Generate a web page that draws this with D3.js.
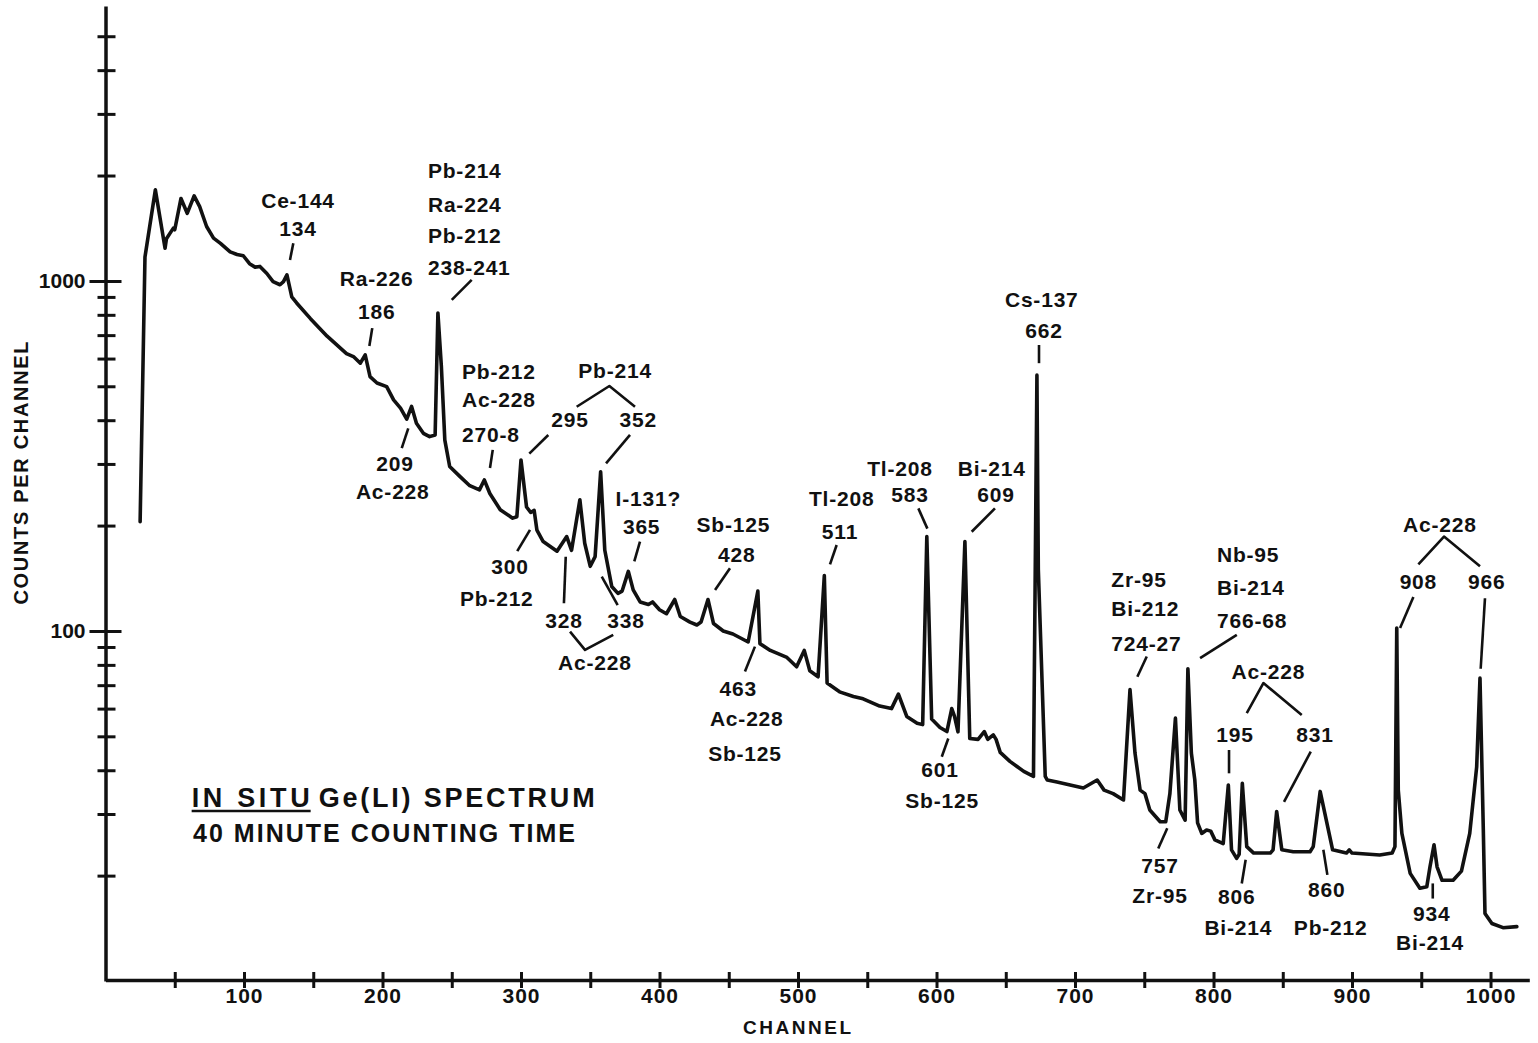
<!DOCTYPE html>
<html>
<head>
<meta charset="utf-8">
<script src="https://cdn.jsdelivr.net/npm/d3@7"></script>
<style>
  body { margin: 0; background: #fff; }
  text { font-family: "Liberation Sans", Arial, sans-serif; font-weight: bold; fill: #111; }
</style>
</head>
<body>
<div id="chart"></div>
<script>
// Spectrum trace: channel number and counts per channel
var channel = [25, 28.5, 36, 43, 44, 49, 50, 54.5, 59, 64, 68, 73, 78, 83, 90, 95, 99.5, 104, 108, 111.5,
  116.5, 121, 126, 128.5, 131, 134.5, 138, 148, 160, 174, 179, 184, 187.5, 191, 196, 203, 208, 213, 217.5, 221,
  224.5, 229.5, 234, 238, 240, 242.5, 245, 248.5, 256, 263, 270, 273.5, 277.5, 285, 294, 297, 300, 304, 307, 309.5,
  311.5, 316, 326, 333, 336.5, 342.5, 346, 350, 353.5, 357.5, 360.5, 365.5, 370, 373, 377.5, 381, 386, 392, 395, 400,
  405, 411, 415, 422, 427, 430, 435, 439, 446, 453, 464, 471, 472.5, 480, 492, 499, 504.5, 508.5, 514.5, 519,
  521, 530, 540, 547, 559, 567.5, 572.5, 578.5, 586, 590, 593, 596.5, 602.5, 607.5, 611, 613, 615.5, 620.5, 624, 630,
  634.5, 637, 641, 643, 646, 653, 663, 670, 672.5, 673.5, 678.5, 680, 687, 696.5, 706, 716, 721, 727.5, 735, 739.7,
  743.3, 747, 750.5, 754, 761.5, 765.5, 768.5, 772.5, 775.7, 779.5, 781.5, 784, 786.5, 788.5, 791.5, 795, 798, 801, 807, 810.7,
  813, 816.7, 818.5, 820.8, 824, 829, 841, 843, 845.6, 849.3, 857.6, 869.7, 872, 877, 886, 896, 898, 900, 920, 929,
  931, 932.3, 933.4, 936, 942, 949, 954, 956.3, 959.2, 961.4, 965, 973, 979, 985, 990, 992.4, 994.8, 996, 1001, 1009, 1019];
var counts = [205, 1170, 1820, 1240, 1320, 1415, 1400, 1720, 1560, 1750, 1630, 1430, 1325, 1280, 1210, 1190, 1180, 1120, 1095, 1100,
  1050, 995, 975, 995, 1040, 900, 865, 780, 695, 620, 608, 582, 615, 533, 511, 499, 457, 433, 403, 438,
  392, 367, 359, 363, 810, 570, 351, 295, 276, 260, 253, 270, 247, 222, 210, 212, 308, 226, 218, 221,
  194, 180, 169, 186, 170, 237, 178, 153, 163, 285, 170, 134, 128, 130, 148, 131, 121, 119, 121, 115,
  112, 123, 110, 106, 104, 106, 123, 105, 100, 98, 93, 130, 92, 88, 84, 79, 88, 77, 74, 144,
  71, 67, 65, 64, 61, 60, 66, 57, 54.5, 54, 186, 56, 53, 51.6, 60, 57, 51.5, 180, 49.3, 49,
  51.6, 49, 50.5, 49, 45, 42.4, 39.7, 38.4, 538, 150, 38.4, 37.5, 37, 36.3, 35.6, 37.5, 35.1, 34.3, 32.9, 68,
  44.8, 35.1, 34.3, 30.8, 28.5, 28.5, 34.3, 56.4, 30.8, 28.8, 78, 44.8, 37.5, 28.3, 26.4, 27, 26.8, 25.3, 24.7, 36.3,
  23.7, 22.4, 23, 36.7, 24.2, 23.2, 23.2, 23.7, 30.5, 23.7, 23.4, 23.4, 24.2, 34.8, 23.7, 23.2, 23.7, 23.2, 22.9, 23.2,
  24.2, 102, 35.1, 26.4, 20.3, 18.4, 18.6, 21.2, 24.5, 21.2, 19.4, 19.4, 20.6, 26.4, 40.9, 73.3, 27, 15.6, 14.6, 14.2, 14.3];

// Axis ticks
var xTicks = d3.range(50, 1001, 50);
var xLabels = [100, 200, 300, 400, 500, 600, 700, 800, 900, 1000];
var yMajor = [100, 1000];
var yMinor = [20, 30, 40, 50, 60, 70, 80, 90, 200, 300, 400, 500, 600, 700, 800, 900, 2000, 3000, 4000, 5000];

// Peak labels: text, channel, counts (centre of the text)
var peakLabels = [
  ["Ce-144", 139, 1700], ["134", 139, 1410],
  ["Ra-226", 195.8, 1018], ["186", 195.8, 817],
  ["209", 209, 301], ["Ac-228", 207.4, 250],
  ["Pb-214", 367.9, 555], ["295", 335.4, 401], ["352", 384.7, 401],
  ["300", 292.1, 153], ["Pb-212", 282.5, 124],
  ["328", 331, 107], ["338", 375.8, 107], ["Ac-228", 353.4, 81.5],
  ["I-131?", 391.9, 239], ["365", 387.1, 199],
  ["Sb-125", 453.3, 201], ["428", 455.7, 165],
  ["463", 456.9, 68.5], ["Ac-228", 463, 56.4], ["Sb-125", 461.7, 44.8],
  ["Tl-208", 531.5, 239], ["511", 530.3, 192],
  ["Tl-208", 573.6, 292], ["583", 580.9, 245],
  ["Bi-214", 639.9, 292], ["609", 643, 245],
  ["Cs-137", 676, 883], ["662", 677.6, 724],
  ["601", 602.5, 40.1], ["Sb-125", 604, 32.7],
  ["Ac-228", 839.6, 76.6], ["195", 815.5, 50.5], ["831", 873.3, 50.5],
  ["757", 761.4, 21.4], ["Zr-95", 761.4, 17.6],
  ["806", 816.8, 17.4], ["Bi-214", 817.9, 14.2],
  ["860", 881.7, 18.2], ["Pb-212", 884.6, 14.2],
  ["Ac-228", 963.5, 201], ["908", 947.9, 138], ["966", 997.3, 138],
  ["934", 957.5, 15.6], ["Bi-214", 956.3, 12.9]
];

// Left aligned label stacks: lines, channel of left edge, counts of each line
var stackLabels = [
  [["Pb-214", "Ra-224", "Pb-212", "238-241"], 232.8, [2065, 1649, 1345, 1094]],
  [["Pb-212", "Ac-228", "270-8"], 257.4, [551, 457, 363]],
  [["Zr-95", "Bi-212", "724-27"], 726.2, [140, 116, 92.3]],
  [["Nb-95", "Bi-214", "766-68"], 802.5, [165, 133, 107]]
];

// Leader lines and brackets as [channel, counts] vertices
var leaders = [
  [[135.6, 1282], [133.2, 1148]],
  [[192.6, 733], [190.5, 652]],
  [[218.6, 379], [213.9, 333]],
  [[264.4, 1007], [250, 883]],
  [[279.6, 329], [277.6, 292]],
  [[340.2, 437], [363.8, 501], [382.3, 437]],
  [[319.7, 363], [306, 321]],
  [[378.7, 363], [361.4, 301]],
  [[306.5, 194.5], [297.3, 169]],
  [[332.3, 163], [331, 120]],
  [[358.3, 143], [369.8, 118.6]],
  [[335.4, 99.6], [346.2, 88.3], [366.6, 97.5]],
  [[385.9, 180], [381.8, 158]],
  [[450.9, 151], [440.1, 131]],
  [[468.9, 90.2], [461.7, 76.6]],
  [[527.9, 176], [523.1, 155]],
  [[586.9, 224], [593.4, 196]],
  [[642.2, 224], [625.4, 192]],
  [[674, 656], [674, 582]],
  [[608.5, 49.3], [603.8, 43.7]],
  [[751.8, 84.5], [745, 74]],
  [[816.8, 97.5], [790.3, 83.6]],
  [[824, 58.2], [836, 71], [863.7, 57.5]],
  [[811.2, 45.7], [811.2, 39.2]],
  [[870.2, 45.2], [850.9, 32.5]],
  [[766.6, 27.3], [760.1, 23.9]],
  [[823.2, 22.2], [820.4, 19.0]],
  [[879.3, 23.7], [882.2, 20.1]],
  [[947.9, 155], [966.4, 186], [992.4, 153]],
  [[944.3, 125], [934.7, 102]],
  [[996, 124], [992.9, 78]],
  [[958.3, 19], [958.3, 17.2]]
];

// Caption block
var captionUnderlined = "IN SITU";
var captionRest = "Ge(LI) SPECTRUM";
var captionLine2 = "40 MINUTE COUNTING TIME";
var captionAt = [[62.2, 33.3], [63.2, 26.4]];

// SVG area
var svgWidth = 1538;
var svgHeight = 1043;

var svg = d3.select("#chart")
  .append("svg")
  .attr("width", svgWidth)
  .attr("height", svgHeight);

var xScale = d3.scaleLinear()
  .domain([0, 1028])
  .range([105.5, 1529.3]);

var yScale = d3.scaleLog()
  .domain([10, 6100])
  .range([981, 6]);

var ink = "#111";

// Y axis with cross-shaped ticks
var yAxis = d3.axisLeft(yScale)
  .tickValues(yMajor.concat(yMinor))
  .tickSize(0)
  .tickPadding(20)
  .tickFormat(d => yMajor.indexOf(d) >= 0 ? d : "");

var yG = svg.append("g")
  .attr("transform", `translate(${xScale(0)},0)`)
  .call(yAxis);
yG.select(".domain").attr("stroke", ink).attr("stroke-width", 3.5);
yG.selectAll(".tick line")
  .attr("stroke", ink)
  .attr("stroke-width", 3)
  .attr("x1", d => yMajor.indexOf(d) >= 0 ? -16 : -8)
  .attr("x2", d => yMajor.indexOf(d) >= 0 ? 16 : 10);
yG.selectAll(".tick text")
  .style("font-size", "21px")
  .attr("fill", ink);

// X axis
var xAxis = d3.axisBottom(xScale)
  .tickValues(xTicks)
  .tickSize(0)
  .tickPadding(8)
  .tickFormat(d => xLabels.indexOf(d) >= 0 ? d : "");

var xG = svg.append("g")
  .attr("transform", `translate(0,${yScale(10) - 1})`)
  .call(xAxis);
xG.select(".domain").attr("stroke", ink).attr("stroke-width", 3.5);
xG.selectAll(".tick line")
  .attr("stroke", ink)
  .attr("stroke-width", 3)
  .attr("y1", -8)
  .attr("y2", 8);
xG.selectAll(".tick text")
  .style("font-size", "21px")
  .style("letter-spacing", "1px")
  .attr("fill", ink);

// Axis titles
svg.append("text")
  .attr("transform", `translate(21,473) rotate(-90)`)
  .attr("text-anchor", "middle")
  .attr("dominant-baseline", "central")
  .attr("textLength", 263)
  .style("font-size", "20px")
  .text("COUNTS PER CHANNEL");

svg.append("text")
  .attr("x", 797)
  .attr("y", 1027)
  .attr("text-anchor", "middle")
  .attr("dominant-baseline", "central")
  .attr("textLength", 108)
  .style("font-size", "19px")
  .text("CHANNEL");

// Spectrum trace
var trace = channel.map((c, i) => [c, counts[i]]);
var line = d3.line()
  .x(d => xScale(d[0]))
  .y(d => yScale(d[1]));

svg.append("path")
  .datum(trace)
  .attr("d", line)
  .attr("fill", "none")
  .attr("stroke", ink)
  .attr("stroke-width", 3.6)
  .attr("stroke-linejoin", "round")
  .attr("stroke-linecap", "round");

// Leader lines
svg.append("g")
  .selectAll("path")
  .data(leaders)
  .enter()
  .append("path")
  .attr("d", line)
  .attr("fill", "none")
  .attr("stroke", ink)
  .attr("stroke-width", 2.6)
  .attr("stroke-linejoin", "round");

// Peak labels
svg.append("g")
  .selectAll("text")
  .data(peakLabels)
  .enter()
  .append("text")
  .attr("x", d => xScale(d[1]))
  .attr("y", d => yScale(d[2]))
  .attr("text-anchor", "middle")
  .attr("dominant-baseline", "central")
  .style("font-size", "21px")
  .style("letter-spacing", "0.8px")
  .text(d => d[0]);

stackLabels.forEach(function (s) {
  s[0].forEach(function (t, i) {
    svg.append("text")
      .attr("x", xScale(s[1]))
      .attr("y", yScale(s[2][i]))
      .attr("text-anchor", "start")
      .attr("dominant-baseline", "central")
      .style("font-size", "21px")
      .style("letter-spacing", "0.8px")
      .text(t);
  });
});

// Caption
var capX = xScale(captionAt[0][0]);
var capY = yScale(captionAt[0][1]);
svg.append("text")
  .attr("x", capX)
  .attr("y", capY)
  .attr("dominant-baseline", "central")
  .attr("textLength", 118)
  .style("font-size", "27px")
  .text(captionUnderlined);
svg.append("line")
  .attr("x1", capX)
  .attr("x2", capX + 119)
  .attr("y1", capY + 13)
  .attr("y2", capY + 13)
  .attr("stroke", ink)
  .attr("stroke-width", 2.5);
svg.append("text")
  .attr("x", capX + 127)
  .attr("y", capY)
  .attr("dominant-baseline", "central")
  .attr("textLength", 276)
  .style("font-size", "27px")
  .text(captionRest);
svg.append("text")
  .attr("x", xScale(captionAt[1][0]))
  .attr("y", yScale(captionAt[1][1]))
  .attr("dominant-baseline", "central")
  .attr("textLength", 382)
  .style("font-size", "25px")
  .text(captionLine2);
</script>
</body>
</html>
